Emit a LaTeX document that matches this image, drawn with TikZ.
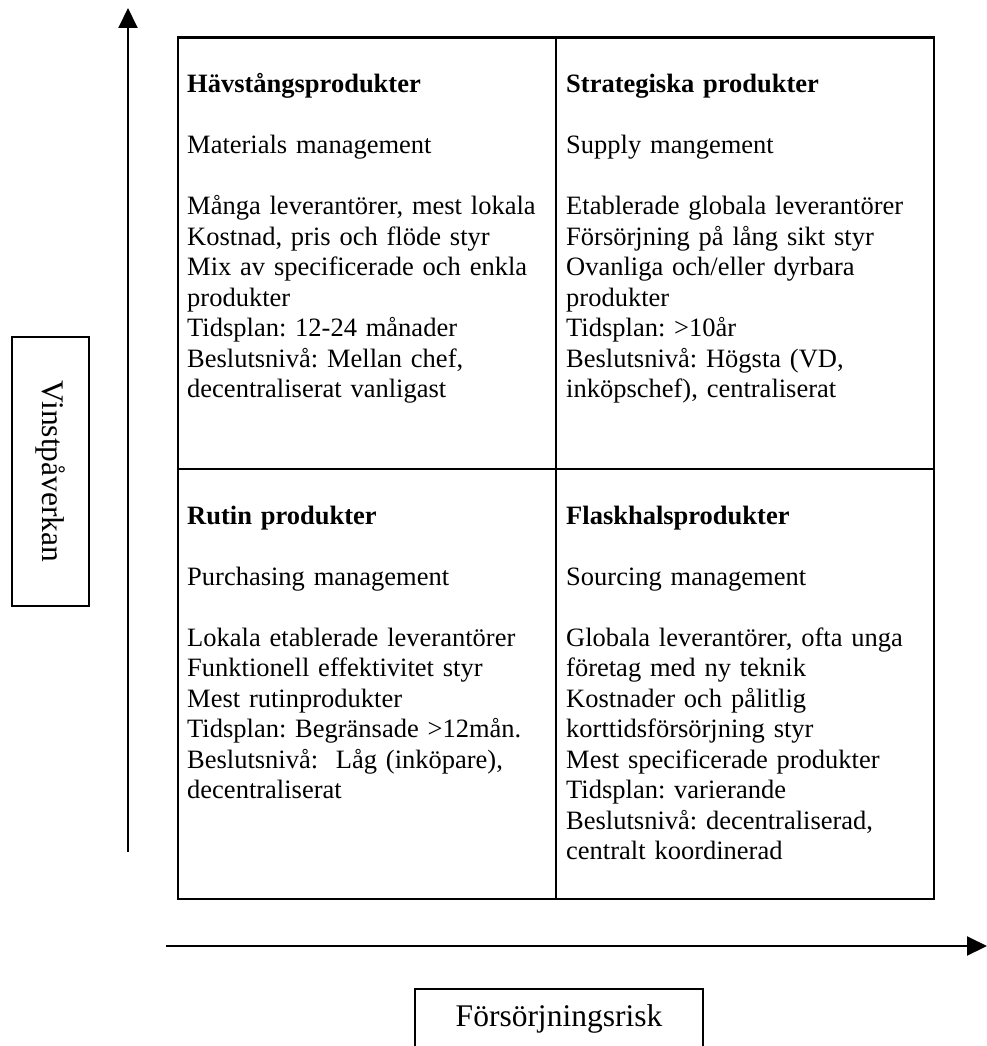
\documentclass[tikz,border=0pt]{standalone}
\usepackage{fontspec}
\setmainfont{Liberation Serif}
\usetikzlibrary{arrows.meta}
\frenchspacing
\begin{document}
\begin{tikzpicture}[x=1pt,y=-1pt,
  grid/.style={line width=2.6pt},
  axis/.style={line width=2pt,-{Triangle[length=20pt,width=19pt]}},
  cell/.style={anchor=base west,inner sep=0pt,text width=420pt,align=left,
    font=\fontsize{26.5}{30.5}\selectfont},
  labelbox/.style={draw,line width=1.6pt,inner sep=0pt,
    font=\fontsize{31.5}{36}\selectfont}]
\useasboundingbox (0,0) rectangle (987,1046);

% the four-field matrix
\draw[grid] (178,37.5) rectangle (934,899);
\draw[grid] (556,37.5) -- (556,899);
\draw[grid] (178,469) -- (934,469);

% axes
\coordinate (yfrom) at (128,852);
\coordinate (yto) at (128,8);
\coordinate (xfrom) at (166,946);
\coordinate (xto) at (987,946);
\draw[axis] (yfrom) -- (yto);
\draw[axis] (xfrom) -- (xto);

% quadrant texts
\node[cell] (lev) at (187,93) {\textbf{Hävstångsprodukter}\\[30.5pt]
  Materials management\\[30.5pt]
  Många leverantörer, mest lokala\\
  Kostnad, pris och flöde styr\\
  Mix av specificerade och enkla\\
  produkter\\
  Tidsplan: 12-24 månader\\
  Beslutsnivå: Mellan chef,\\
  decentraliserat vanligast};

\node[cell] (str) at (566,93) {\textbf{Strategiska produkter}\\[30.5pt]
  Supply mangement\\[30.5pt]
  Etablerade globala leverantörer\\
  Försörjning på lång sikt styr\\
  Ovanliga och/eller dyrbara\\
  produkter\\
  Tidsplan: >10år\\
  Beslutsnivå: Högsta (VD,\\
  inköpschef), centraliserat};

\node[cell] (rut) at (187,524) {\textbf{Rutin produkter}\\[30.5pt]
  Purchasing management\\[30.5pt]
  Lokala etablerade leverantörer\\
  Funktionell effektivitet styr\\
  Mest rutinprodukter\\
  Tidsplan: Begränsade >12mån.\\
  Beslutsnivå:~ Låg (inköpare),\\
  decentraliserat};

\node[cell] (fla) at (566,524) {\textbf{Flaskhalsprodukter}\\[30.5pt]
  Sourcing management\\[30.5pt]
  Globala leverantörer, ofta unga\\
  företag med ny teknik\\
  Kostnader och pålitlig\\
  korttidsförsörjning styr\\
  Mest specificerade produkter\\
  Tidsplan: varierande\\
  Beslutsnivå: decentraliserad,\\
  centralt koordinerad};

% axis labels
\node[labelbox,rotate=-90,minimum width=269pt,minimum height=77pt] (vin) at (50.5,471.5) {Vinstpåverkan};
\node[labelbox,minimum width=288pt,minimum height=60pt] (fors) at (559,1019) {Försörjningsrisk};
\end{tikzpicture}
\end{document}
